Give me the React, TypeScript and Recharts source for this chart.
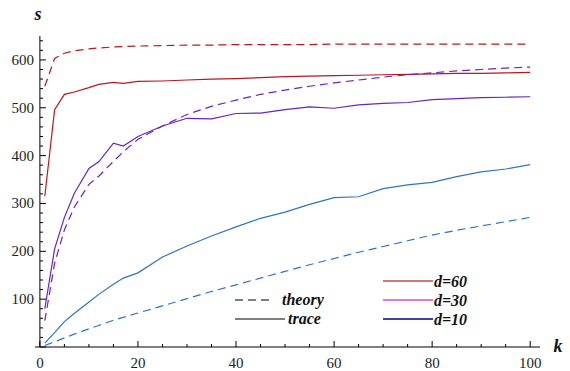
import { LineChart, Line, XAxis, YAxis, ReferenceLine } from 'recharts';

const ks = [1, 3, 5, 7, 10, 12, 15, 17, 20, 25, 30, 35, 40, 45, 50, 55, 60, 65, 70, 75, 80, 85, 90, 95, 100];

const trace60 = [315, 496, 528, 533, 542, 549, 553, 551, 555, 556, 558, 560, 561, 563, 565, 566, 567, 568, 569, 570, 571, 572, 572, 573, 574];
const theory60 = [545, 603, 614, 619, 623, 625, 627, 628, 629, 630, 631, 631, 632, 632, 632, 632, 633, 633, 633, 633, 633, 633, 633, 633, 633];
const trace30 = [80, 205, 271, 321, 373, 387, 426, 420, 440, 462, 478, 477, 488, 489, 496, 502, 499, 506, 509, 511, 517, 519, 521, 522, 523];
const theory30 = [55, 175, 245, 292, 340, 357, 388, 408, 434, 462, 486, 503, 516, 528, 537, 545, 552, 558, 564, 569, 573, 577, 580, 583, 585];
const trace10 = [8, 30, 53, 70, 94, 110, 131, 144, 155, 188, 211, 232, 251, 269, 282, 298, 312, 314, 331, 339, 344, 356, 366, 372, 381];
const theory10 = [3, 11, 19, 27, 38, 45, 56, 62, 71, 86, 101, 116, 130, 144, 158, 172, 185, 198, 210, 222, 234, 244, 253, 262, 271];

const xTicks = [0, 5, 10, 15, 20, 25, 30, 35, 40, 45, 50, 55, 60, 65, 70, 75, 80, 85, 90, 95, 100];
const yTicks = [0, 20, 40, 60, 80, 100, 120, 140, 160, 180, 200, 220, 240, 260, 280, 300, 320, 340, 360, 380, 400, 420, 440, 460, 480, 500, 520, 540, 560, 580, 600, 620, 640];

const data = ks.map((k, i) => ({
  k,
  t60: trace60[i],
  th60: theory60[i],
  t30: trace30[i],
  th30: theory30[i],
  t10: trace10[i],
  th10: theory10[i],
}));

const RED = '#c0141e';
const PURPLE = '#6a22c8';
const BLUE = '#2e74c6';
const font = 'Liberation Serif';

function XTick(props: any) {
  const { x, y, payload } = props;
  const major = payload.value % 20 === 0;
  return (
    <g>
      <line x1={x} x2={x} y1={y} y2={y - (major ? 6 : 3)} stroke="#000" strokeWidth={1} />
      {major && (
        <text x={x} y={y + 21} textAnchor="middle" fontFamily={font} fontSize={15} fill="#222">
          {payload.value}
        </text>
      )}
    </g>
  );
}

function YTick(props: any) {
  const { x, y, payload } = props;
  const major = payload.value % 100 === 0;
  const ax = x + 6;
  return (
    <g>
      <line x1={ax} x2={ax + (major ? 6 : 3)} y1={y} y2={y} stroke="#000" strokeWidth={1} />
      {major && payload.value !== 0 && (
        <text x={x} y={y + 5} textAnchor="end" fontFamily={font} fontSize={15} fill="#222">
          {payload.value}
        </text>
      )}
    </g>
  );
}

const legendStyle = ['theory', 'trace'];
const legendSeries = [
  { label: 'd=60', color: '#d27a7a', width: 2 },
  { label: 'd=30', color: '#e040e0', width: 1.3 },
  { label: 'd=10', color: '#00008b', width: 1.3 },
];

export default function App() {
  const lbl = { fontFamily: font, fontWeight: 'bold' as const, fontStyle: 'italic' as const, fontSize: 16 };
  return (
    <div style={{ position: 'absolute', left: 0, top: 0, width: 570, height: 371, background: '#fff' }}>
      <LineChart width={570} height={371} data={data} margin={{ top: 36, right: 30, bottom: 0, left: 0 }}>
        <XAxis
          dataKey="k"
          type="number"
          domain={[-1, 102]}
          ticks={xTicks}
          interval={0}
          height={24}
          tickSize={0}
          tickMargin={0}
          tickLine={false}
          axisLine={{ stroke: '#000', strokeWidth: 1 }}
          tick={<XTick />}
        />
        <YAxis
          type="number"
          domain={[0, 650]}
          ticks={yTicks}
          interval={0}
          width={35}
          tickSize={0}
          tickMargin={1}
          tickLine={false}
          axisLine={false}
          tick={<YTick />}
        />
        <ReferenceLine x={0} stroke="#000" strokeWidth={1} />
        <Line type="linear" dataKey="th60" stroke={RED} strokeWidth={1.2} strokeDasharray="8 5" dot={false} isAnimationActive={false} />
        <Line type="linear" dataKey="t60" stroke={RED} strokeWidth={1.2} dot={false} isAnimationActive={false} />
        <Line type="linear" dataKey="th30" stroke={PURPLE} strokeWidth={1.2} strokeDasharray="8 5" dot={false} isAnimationActive={false} />
        <Line type="linear" dataKey="t30" stroke={PURPLE} strokeWidth={1.2} dot={false} isAnimationActive={false} />
        <Line type="linear" dataKey="th10" stroke={BLUE} strokeWidth={1.2} strokeDasharray="8 5" dot={false} isAnimationActive={false} />
        <Line type="linear" dataKey="t10" stroke={BLUE} strokeWidth={1.2} dot={false} isAnimationActive={false} />
      </LineChart>
      <svg width={570} height={371} style={{ position: 'absolute', left: 0, top: 0, pointerEvents: 'none' }}>
        <text x={38} y={20} textAnchor="middle" fill="#111" style={{ ...lbl, fontSize: 18 }}>s</text>
        <text x={558} y={352} textAnchor="middle" fill="#111" style={{ ...lbl, fontSize: 18 }}>k</text>
        {legendStyle.map((name, i) => (
          <g key={name}>
            <line
              x1={235}
              x2={i === 0 ? 273 : 285}
              y1={300 + i * 19}
              y2={300 + i * 19}
              stroke="#000"
              strokeWidth={1}
              strokeDasharray={i === 0 ? '8 5' : undefined}
            />
            <text x={i === 0 ? 282 : 288} y={305 + i * 19} fill="#111" style={lbl}>{name}</text>
          </g>
        ))}
        {legendSeries.map((s, i) => (
          <g key={s.label}>
            <line x1={383} x2={433} y1={281 + i * 19} y2={281 + i * 19} stroke={s.color} strokeWidth={s.width} />
            <text x={434} y={287 + i * 19} fill="#111" style={lbl}>{s.label}</text>
          </g>
        ))}
      </svg>
    </div>
  );
}
